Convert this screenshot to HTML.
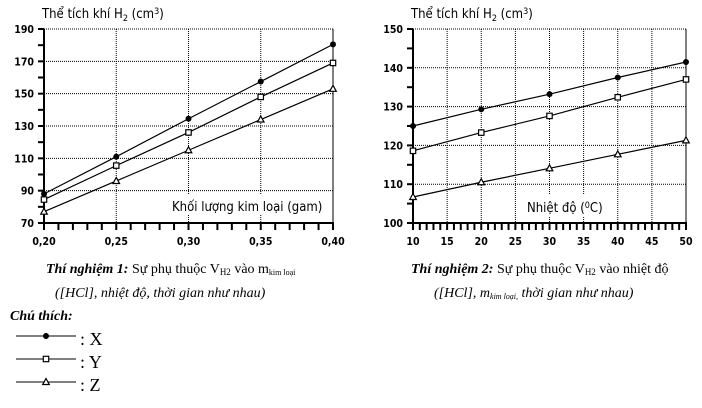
<!DOCTYPE html><html><head><meta charset="utf-8"><style>
body{margin:0;background:#fff;width:702px;height:403px;overflow:hidden}
svg text{font-family:"DejaVu Sans Condensed","Liberation Sans",sans-serif}
svg .cap text{font-family:"Liberation Serif",serif}
</style></head><body>
<svg id="s" width="702" height="403" xmlns="http://www.w3.org/2000/svg">
<g id="g"></g>
<g class="cap" font-size="14">
<text x="46" y="273"><tspan font-weight="bold" font-style="italic">Thí nghiệm 1:</tspan> Sự phụ thuộc V<tspan font-size="9" dy="2">H2</tspan><tspan dy="-2"> vào m</tspan><tspan font-size="8" dy="2">kim loại</tspan></text>
<text x="55" y="297" font-style="italic">([HCl], nhiệt độ, thời gian như nhau)</text>
<text x="411" y="273"><tspan font-weight="bold" font-style="italic">Thí nghiệm 2:</tspan> Sự phụ thuộc V<tspan font-size="9" dy="2">H2</tspan><tspan dy="-2"> vào nhiệt độ</tspan></text>
<text x="434" y="297" font-style="italic">([HCl], m<tspan font-size="8" dy="2">kim loại,</tspan><tspan dy="-2"> thời gian như nhau)</tspan></text>
<text x="10" y="320" font-weight="bold" font-style="italic">Chú thích:</text>
<text x="80" y="345" font-size="18">: X</text>
<text x="80" y="368" font-size="18">: Y</text>
<text x="80" y="391" font-size="18">: Z</text>
</g>
</svg>
<script>
var g=document.getElementById('g'),h='';
function L(x1,y1,x2,y2,a){h+='<line x1="'+x1+'" y1="'+y1+'" x2="'+x2+'" y2="'+y2+'" stroke="#000" '+(a||'stroke-width="1"')+'/>';}
function T(x,y,t,a){h+='<text x="'+x+'" y="'+y+'" font-size="10.5" font-weight="bold" '+(a||'')+'>'+t+'</text>';}
function mk(x,y,k){if(k==0)h+='<circle cx="'+x+'" cy="'+y+'" r="3" fill="#000"/>';
else if(k==1)h+='<rect x="'+(x-2.7)+'" y="'+(y-2.7)+'" width="5.4" height="5.4" fill="#fff" stroke="#000" stroke-width="1.2"/>';
else h+='<polygon points="'+x+','+(y-3.5)+' '+(x+3.3)+','+(y+2.5)+' '+(x-3.3)+','+(y+2.5)+'" fill="#fff" stroke="#000" stroke-width="1.2"/>';}
function chart(x0,x1,y0,y1,xs,ymin,ymax,ystep,yminor,xvals,xgrid,xminor,xlab,data,title,xt){
 var X=function(v){return x0+(v-xs[0])/(xs[1]-xs[0])*(x1-x0)},Y=function(v){return y1-(v-ymin)/(ymax-ymin)*(y1-y0)};
 for(var v=ymin+ystep;v<=ymax;v+=ystep)L(x0,Y(v),x1,Y(v),'stroke="#555" stroke-dasharray="1,1" stroke-width="1"');
 xgrid.forEach(function(v){L(X(v),y0,X(v),y1,'stroke="#555" stroke-dasharray="1,1" stroke-width="1"')});
 L(x1,y0,x1,y1,'stroke="#555" stroke-width="1"');
 L(x0,y0,x0,y1,'stroke-width="2"');L(x0-1,y1,x1+1,y1,'stroke-width="2"');
 for(var v=ymin;v<=ymax+0.01;v+=yminor)L(x0-6,Y(v),x0,Y(v),'stroke-width="2"');
 xminor.forEach(function(v){L(X(v),y1,X(v),y1+7,'stroke-width="2"')});
 for(var v=ymin;v<=ymax;v+=ystep)T(x0-10,Y(v)+4,v,'text-anchor="end"');
 xlab.forEach(function(p){T(X(p[0]),y1+22,p[1],'text-anchor="middle"')});
 data.forEach(function(d,k){var pts=d.map(function(y,i){return X(xvals[i])+','+Y(y)}).join(' ');
  h+='<polyline points="'+pts+'" fill="none" stroke="#000" stroke-width="1.2"/>';
  d.forEach(function(y,i){mk(X(xvals[i]),Y(y),k)});});
 h+='<text x="'+(x0-2)+'" y="18" font-size="13">Thể tích khí H<tspan font-size="9" dy="3">2</tspan><tspan dy="-3"> (cm</tspan><tspan font-size="9" dy="-4">3</tspan><tspan dy="4">)</tspan></text>';
 h+=xt;
}
var xm1=[];for(var i=0;i<=20;i++)xm1.push(0.2+i*0.01);
chart(44,333,29,223,[0.2,0.4],70,190,20,10,[0.2,0.25,0.3,0.35,0.4],[0.25,0.3,0.35],xm1,
 [[0.2,'0,20'],[0.25,'0,25'],[0.3,'0,30'],[0.35,'0,35'],[0.4,'0,40']],
 [[88,111,134.5,157.5,180.5],[84.5,105.5,126,148,169],[77,96,115,134,153]],'',
 '<rect x="168" y="194" width="150" height="20" fill="#fff"/><text x="172" y="211" font-size="13">Khối lượng kim loại (gam)</text>');
var xm2=[];for(var i=10;i<=50;i++)xm2.push(i);
chart(413,686,29,223,[10,50],100,150,10,5,[10,20,30,40,50],[15,20,25,30,35,40,45],xm2,
 [[10,'10'],[15,'15'],[20,'20'],[25,'25'],[30,'30'],[35,'35'],[40,'40'],[45,'45'],[50,'50']],
 [[125,129.3,133.2,137.5,141.5],[118.6,123.3,127.6,132.4,137],[106.7,110.5,114.1,117.7,121.3]],'',
 '<rect x="522" y="194" width="95" height="22" fill="#fff"/><text x="527" y="212" font-size="13">Nhiệt độ (<tspan font-size="9" dy="-4">0</tspan><tspan dy="4">C)</tspan></text>');
[[340,0],[363,1],[386,2]].forEach(function(p){L(16,p[0]-4,76,p[0]-4);mk(46,p[0]-4,p[1]);});
g.innerHTML=h;
</script>
</body></html>
